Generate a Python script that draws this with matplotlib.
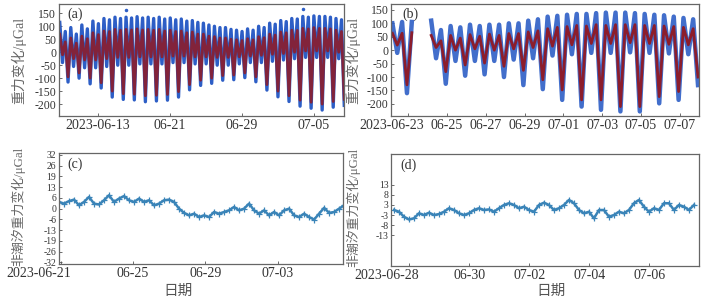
import numpy as np
import pandas as pd
import matplotlib
matplotlib.use("Agg")
import matplotlib.pyplot as plt
import matplotlib.transforms as mtransforms

plt.rcParams['font.family'] = ['Liberation Serif', 'Noto Sans CJK SC', 'DejaVu Sans']
plt.rcParams['axes.unicode_minus'] = False

# ---- panel (a): tide extrema per tidal day (peak, shallow trough, peak, deep trough)
a_blue_peak1 = [115, 95, 105, 120, 130, 135, 135, 137, 135, 135, 132, 128, 122, 112, 100, 95, 85, 90, 100, 112, 122, 130, 138, 140, 138, 130]
a_blue_shallow = [-40, -55, -60, -60, -55, -50, -50, -45, -45, -45, -40, -40, -45, -45, -50, -50, -45, -40, -40, -35, -30, -25, -20, -20, -20, -25]
a_blue_peak2 = [80, 70, 90, 110, 125, 130, 132, 132, 130, 128, 125, 120, 115, 105, 95, 88, 80, 85, 95, 108, 118, 128, 135, 138, 135, 125]
a_blue_deep = [-115, -100, -122, -138, -173, -182, -184, -191, -188, -185, -173, -145, -128, -120, -108, -106, -98, -114, -146, -172, -190, -208, -216, -223, -212, -205]
a_red_peak1 = [70, 55, 62, 75, 82, 88, 88, 90, 88, 88, 85, 82, 78, 70, 60, 55, 48, 52, 60, 70, 78, 85, 92, 95, 92, 85]
a_red_shallow = [-10, -25, -30, -30, -25, -20, -20, -18, -18, -18, -15, -15, -18, -18, -20, -20, -18, -15, -12, -8, -5, 0, 5, 5, 5, 0]
a_red_peak2 = [40, 35, 52, 68, 80, 85, 86, 86, 85, 82, 80, 75, 70, 62, 55, 50, 45, 48, 56, 66, 75, 84, 90, 92, 90, 80]
a_red_deep = [-95, -80, -100, -118, -150, -160, -162, -168, -166, -163, -152, -125, -108, -100, -90, -88, -80, -95, -125, -150, -168, -185, -193, -200, -190, -182]
a_out_time = ['2023-06-16 02:00', '2023-07-05 18:00']
a_out_val = [162, 168]

# ---- panel (b)
nan = np.nan
b_blue_peak1 = [100, 105, 110, 90, 95, 95, 100, 110, 125, 132, 135, 140, 140, 135, 130, 120]
b_blue_shallow = [-10, nan, -30, -40, -40, -40, -35, -30, -20, -15, -10, -10, -8, -10, -12, -15]
b_blue_peak2 = [105, nan, 75, 85, 90, 95, 100, 115, 128, 135, 138, 140, 138, 132, 125, 115]
b_blue_deep = [-160, nan, -125, -95, -90, -100, -130, -145, -185, -210, -222, -228, -228, -198, -185, -130]
b_red_peak1 = [63, 65, 55, 55, 58, 60, 62, 68, 80, 88, 90, 92, 95, 92, 90, 85]
b_red_shallow = [19, nan, 10, 0, 5, 0, 5, 10, 15, 20, 25, 25, 28, 25, 22, 20]
b_red_peak2 = [63, nan, 35, 45, 52, 55, 62, 72, 85, 92, 95, 95, 95, 92, 88, 80]
b_red_deep = [-129, nan, -80, -55, -48, -60, -75, -110, -148, -185, -185, -210, -210, -173, -154, -100]

# ---- panel (c), (d): non-tidal gravity residual
c_vals = [4, 3, 4.5, 5.4, 2, 4, 7, 3, 2.5, 5, 8, 4, 6, 7.5, 5, 4, 6, 4, 5, 2, 3, 5, 5.4, 4, 0,
          -2.5, -4, -3, -5, -4, -5, -2, -3, -2, -1, 1, -1, 0, 3, -1, -3, -1, -4, -2, -4, -1, 0,
          -4, -5, -3, -5, -6.5, -3, 0.5, -2.5, -2, 0, 2]
d_vals = [0, -0.9, -3.5, -4.9, -4.3, -1.7, -2.6, -1.4, -2.6, -2.1, -0.9, 0.9, 0, -1.7, -2.6, -1.7,
          0, 0.9, 0, 0.3, -0.9, 0.9, 2.6, 3.5, 2.6, 0.9, 1.7, 0, -0.9, 2.6, 3.8, 2.6, 0, 0.9, 2.6,
          5.2, 3.5, 0, -1.7, -0.9, -4.3, 0, 0, -3.5, -2.6, -0.9, -1.7, 0, 3.5, 5.2, 1.7, -0.9, 0.9,
          0, 3.5, 3.5, 0, 2.6, 1.7, 0, 2.6]

a_ticks = ['2023-06-13', '2023-06-21', '2023-06-29', '2023-07-07']
a_ticklabels = ['2023-06-13', '06-21', '06-29', '07-05']
b_ticks = ['2023-06-23', '2023-06-25', '2023-06-27', '2023-06-29', '2023-07-01', '2023-07-03', '2023-07-05', '2023-07-07']
b_ticklabels = ['2023-06-23', '06-25', '06-27', '06-29', '07-01', '07-03', '07-05', '07-07']
c_ticks = ['2023-06-21', '2023-06-25', '2023-06-29', '2023-07-03']
c_ticklabels = ['2023-06-21', '06-25', '06-29', '07-03']
d_ticks = ['2023-06-28', '2023-06-30', '2023-07-02', '2023-07-04', '2023-07-06']
d_ticklabels = ['2023-06-28', '06-30', '07-02', '07-04', '07-06']
ab_yticks = [-200, -150, -100, -50, 0, 50, 100, 150]
c_yticks = [-32, -25.6, -19.2, -12.8, -6.4, 0, 6.4, 12.8, 19.2, 25.6, 32]
d_yticks = [-13, -7.8, -2.6, 2.6, 7.8, 13]

BLUE = '#2d5ec6'
RED = '#8c1d2c'
RES = '#3a84b8'
GRAY = '#555555'


def interleave(p1, sh, p2, dp):
    return np.column_stack([p1, sh, p2, dp]).ravel()


def style(ax, ticks, labels, shift, xlim, ylim, yticks, yfs=8.5):
    ax.set_xlim(pd.Timestamp(xlim[0]), pd.Timestamp(xlim[1]))
    ax.set_ylim(*ylim)
    ax.set_xticks([pd.Timestamp(t) for t in ticks])
    ax.set_xticklabels(labels, fontsize=10, color='#333333')
    ax.set_yticks(yticks)
    ax.set_yticklabels(['%d' % round(v) for v in yticks], fontsize=yfs, color='#333333')
    ax.tick_params(direction='in', length=2, width=0.6, colors=GRAY, labelcolor='#333333', pad=2)
    for s in ax.spines.values():
        s.set_color('#666666')
        s.set_linewidth(0.9)
    if shift:
        lab = ax.get_xticklabels()[0]
        lab.set_transform(lab.get_transform() + mtransforms.ScaledTranslation(shift / 100, 0, ax.figure.dpi_scale_trans))


fig = plt.figure(figsize=(7.04, 3.02), dpi=100)
ax_a = fig.add_axes([0.0838, 0.6159, 0.4048, 0.3709])
ax_b = fig.add_axes([0.5558, 0.6159, 0.4366, 0.3709])
ax_c = fig.add_axes([0.0838, 0.1258, 0.4038, 0.3666])
ax_d = fig.add_axes([0.5558, 0.1192, 0.4366, 0.3709])

# (a)
blue_a = interleave(a_blue_peak1, a_blue_shallow, a_blue_peak2, a_blue_deep)
red_a = interleave(a_red_peak1, a_red_shallow, a_red_peak2, a_red_deep)
t_a = pd.date_range('2023-06-08 18:00', periods=len(blue_a), freq='442min')
ax_a.plot(t_a, blue_a, color=BLUE, lw=2.4, solid_joinstyle='round')
ax_a.plot(t_a, red_a, color=RED, lw=2.0, solid_joinstyle='round', alpha=0.9)
ax_a.plot(pd.to_datetime(a_out_time), a_out_val, 'o', color=BLUE, ms=1.5)
style(ax_a, a_ticks, a_ticklabels, 0, ('2023-06-08 16:00', '2023-07-10 08:00'), (-246, 186), ab_yticks)
ax_a.set_ylabel('重力变化/μGal', fontsize=10, color='#666666')
ax_a.yaxis.set_label_coords(-0.115, 0.5)
ax_a.text(0.03, 0.97, '(a)', transform=ax_a.transAxes, fontsize=10, va='top', color='#333333')

# (b)
blue_b = interleave(b_blue_peak1, b_blue_shallow, b_blue_peak2, b_blue_deep)
red_b = interleave(b_red_peak1, b_red_shallow, b_red_peak2, b_red_deep)
t_b = pd.date_range('2023-06-22 04:30', periods=len(blue_b), freq='6h')
ax_b.plot(t_b, blue_b, color=BLUE, lw=3.2, solid_joinstyle='round', alpha=0.9)
ax_b.plot(t_b, red_b, color=RED, lw=2.0, solid_joinstyle='round')
style(ax_b, b_ticks, b_ticklabels, -16, ('2023-06-22 03:07', '2023-07-07 23:17'), (-245, 172), ab_yticks)
ax_b.set_ylabel('重力变化/μGal', fontsize=10, color='#666666')
ax_b.yaxis.set_label_coords(-0.1, 0.5)
ax_b.text(0.035, 0.97, '(b)', transform=ax_b.transAxes, fontsize=10, va='top', color='#333333')

# (c)
t_c = pd.date_range('2023-06-20 22:00', periods=len(c_vals), freq='398min')
ax_c.plot(t_c, c_vals, color=RES, lw=1.8, marker='+', ms=4, mew=0.9)
style(ax_c, c_ticks, c_ticklabels, -22, ('2023-06-20 22:00', '2023-07-06 15:00'), (-33, 33), c_yticks, yfs=7)
ax_c.set_ylabel('非潮汐重力变化/μGal', fontsize=9.3, color='#666666')
ax_c.yaxis.set_label_coords(-0.12, 0.52)
ax_c.set_xlabel('日期', fontsize=10.5, color='#555555')
ax_c.xaxis.set_label_coords(0.42, -0.19)
ax_c.text(0.03, 0.96, '(c)', transform=ax_c.transAxes, fontsize=10, va='top', color='#333333')

# (d)
t_d = pd.date_range('2023-06-27 11:36', periods=len(d_vals), freq='4h')
ax_d.plot(t_d, d_vals, color=RES, lw=1.8, marker='+', ms=4, mew=0.9)
style(ax_d, d_ticks, d_ticklabels, -23, ('2023-06-27 09:26', '2023-07-07 15:22'), (-29, 29), d_yticks, yfs=7)
ax_d.set_ylabel('非潮汐重力变化/μGal', fontsize=9.3, color='#666666')
ax_d.yaxis.set_label_coords(-0.1, 0.52)
ax_d.set_xlabel('日期', fontsize=10.5, color='#555555')
ax_d.xaxis.set_label_coords(0.52, -0.17)
ax_d.text(0.03, 0.96, '(d)', transform=ax_d.transAxes, fontsize=10, va='top', color='#333333')

fig.savefig('out.png', dpi=100, facecolor='white')
